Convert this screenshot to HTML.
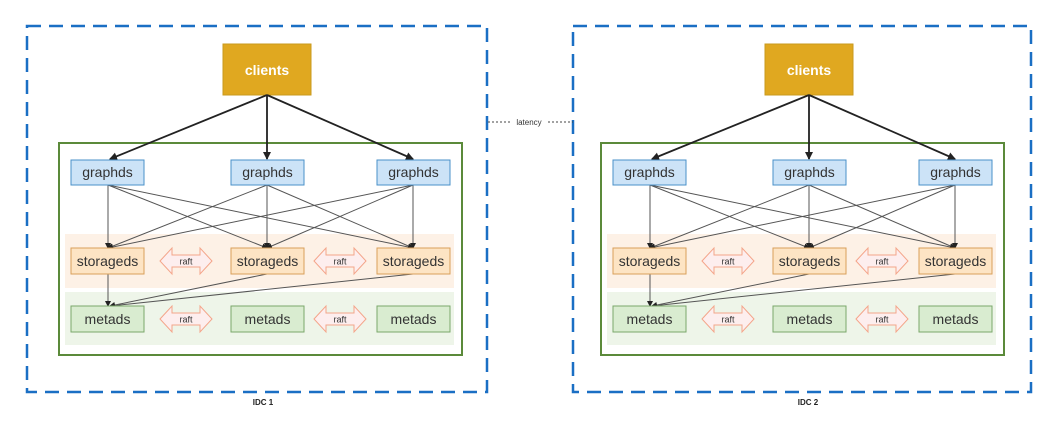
<!DOCTYPE html>
<html><head><meta charset="utf-8"><style>
html,body{margin:0;padding:0;background:#fff;}
svg{display:block;font-family:"Liberation Sans","DejaVu Sans",sans-serif;}
</style></head><body>
<svg width="1058" height="431" viewBox="0 0 1058 431" xmlns="http://www.w3.org/2000/svg">
<defs>
<marker id="ah" markerWidth="8" markerHeight="8" refX="7" refY="4" orient="auto" markerUnits="userSpaceOnUse"><path d="M0,0 L8,4 L0,8 z" fill="#222"/></marker>
<marker id="as" markerWidth="6" markerHeight="6" refX="5" refY="3" orient="auto" markerUnits="userSpaceOnUse"><path d="M0,0 L6,3 L0,6 z" fill="#222"/></marker>
<g id="raft">
<path d="M0,13 L12,0 L12,7 L40,7 L40,0 L52,13 L40,26 L40,19 L12,19 L12,26 Z" fill="#fdeeee" stroke="#f4a58a" stroke-width="1"/>
<text x="26" y="16.5" font-size="9" text-anchor="middle" fill="#333">raft</text>
</g>
<g id="idc">
<rect x="223" y="44" width="88" height="51" fill="#e0a820" stroke="#c99a1e"/>
<text x="267" y="75" font-size="14" font-weight="bold" fill="#fff" text-anchor="middle">clients</text>
<rect x="59" y="143" width="403" height="212" fill="#fff" stroke="#5b8a3a" stroke-width="2"/>
<rect x="65" y="234" width="389" height="54" fill="#fdf1e6"/>
<rect x="65" y="292" width="389" height="53" fill="#eef5e9"/>
<g stroke="#222" stroke-width="1.8" fill="none">
<line x1="267" y1="95" x2="110" y2="159" marker-end="url(#ah)"/>
<line x1="267" y1="95" x2="267" y2="159" marker-end="url(#ah)"/>
<line x1="267" y1="95" x2="413" y2="159" marker-end="url(#ah)"/>
</g>
<g stroke="#555" stroke-width="1" fill="none">
<line x1="108" y1="185" x2="108" y2="248" marker-end="url(#as)"/>
<line x1="108" y1="185" x2="267" y2="248" marker-end="url(#as)"/>
<line x1="108" y1="185" x2="413" y2="248" marker-end="url(#as)"/>
<line x1="267" y1="185" x2="108" y2="248" marker-end="url(#as)"/>
<line x1="267" y1="185" x2="267" y2="248" marker-end="url(#as)"/>
<line x1="267" y1="185" x2="413" y2="248" marker-end="url(#as)"/>
<line x1="413" y1="185" x2="108" y2="248" marker-end="url(#as)"/>
<line x1="413" y1="185" x2="267" y2="248" marker-end="url(#as)"/>
<line x1="413" y1="185" x2="413" y2="248" marker-end="url(#as)"/>
<line x1="108" y1="274" x2="108" y2="306" marker-end="url(#as)"/>
<line x1="267" y1="274" x2="110" y2="306" marker-end="url(#as)"/>
<line x1="413" y1="274" x2="110" y2="306" marker-end="url(#as)"/>
</g>
<g font-size="14" fill="#333" text-anchor="middle">
<rect x="71" y="160" width="73" height="25" fill="#cce3f7" stroke="#4a90c8"/><text x="107.5" y="177">graphds</text>
<rect x="231" y="160" width="73" height="25" fill="#cce3f7" stroke="#4a90c8"/><text x="267.5" y="177">graphds</text>
<rect x="377" y="160" width="73" height="25" fill="#cce3f7" stroke="#4a90c8"/><text x="413.5" y="177">graphds</text>
<rect x="71" y="248" width="73" height="26" fill="#fde4c4" stroke="#d9a05a"/><text x="107.5" y="266">storageds</text>
<rect x="231" y="248" width="73" height="26" fill="#fde4c4" stroke="#d9a05a"/><text x="267.5" y="266">storageds</text>
<rect x="377" y="248" width="73" height="26" fill="#fde4c4" stroke="#d9a05a"/><text x="413.5" y="266">storageds</text>
<rect x="71" y="306" width="73" height="26" fill="#d9ecd0" stroke="#7aa86a"/><text x="107.5" y="324">metads</text>
<rect x="231" y="306" width="73" height="26" fill="#d9ecd0" stroke="#7aa86a"/><text x="267.5" y="324">metads</text>
<rect x="377" y="306" width="73" height="26" fill="#d9ecd0" stroke="#7aa86a"/><text x="413.5" y="324">metads</text>
</g>
<use href="#raft" x="160" y="248"/>
<use href="#raft" x="314" y="248"/>
<use href="#raft" x="160" y="306"/>
<use href="#raft" x="314" y="306"/>
</g>
</defs>
<rect x="27" y="26" width="460" height="366" fill="none" stroke="#1a6fc4" stroke-width="2.5" stroke-dasharray="14,8"/>
<rect x="573" y="26" width="458" height="366" fill="none" stroke="#1a6fc4" stroke-width="2.5" stroke-dasharray="14,8"/>
<use href="#idc" x="0" y="0"/>
<use href="#idc" x="542" y="0"/>
<text x="263" y="405" font-size="8" font-weight="bold" fill="#222" text-anchor="middle">IDC 1</text>
<text x="808" y="405" font-size="8" font-weight="bold" fill="#222" text-anchor="middle">IDC 2</text>
<line x1="488" y1="122" x2="573" y2="122" stroke="#444" stroke-width="1" stroke-dasharray="2,2"/>
<rect x="510" y="117" width="38" height="10" fill="#fff"/>
<text x="529" y="125" font-size="8" fill="#333" text-anchor="middle">latency</text>
</svg>
</body></html>
